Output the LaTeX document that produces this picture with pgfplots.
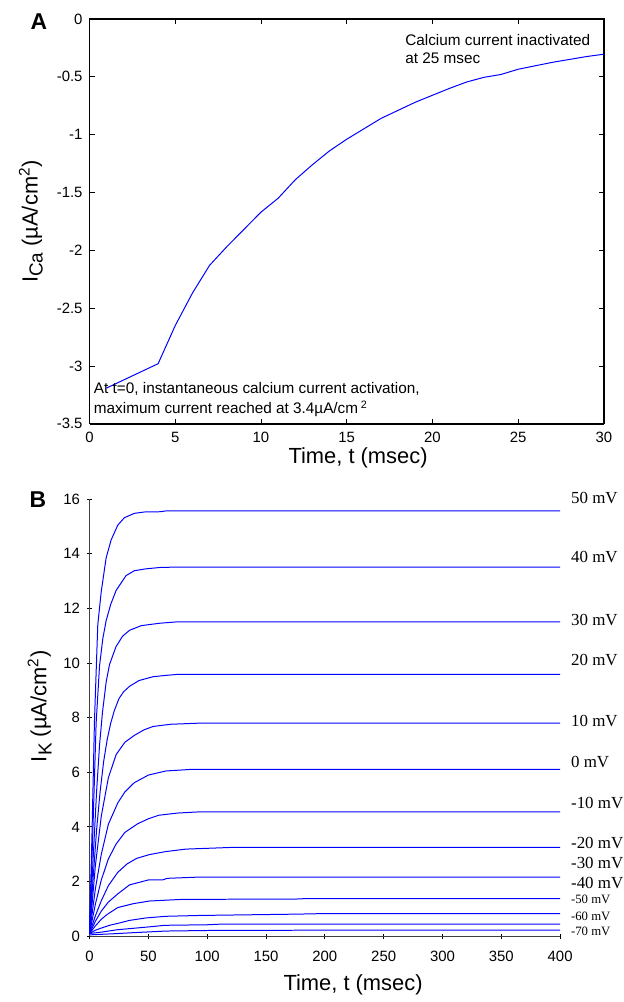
\documentclass[border=0pt]{standalone}
\usepackage{fontspec}
\setmainfont{Liberation Sans}
\newfontfamily\mvfont{Liberation Serif}
\usepackage{pgfplots}
\usepackage{pgfplotstable}
\pgfplotsset{compat=1.18}

% panel A: calcium current
\pgfplotstableread{
t   ica
1   -3.19
2   -3.12
3   -3.05
4   -2.98
5   -2.65
6   -2.37
7   -2.13
8   -1.97
9   -1.82
10  -1.67
11  -1.55
12  -1.39
13  -1.26
14  -1.14
15  -1.04
16  -0.95
17  -0.86
18  -0.79
19  -0.72
20  -0.66
21  -0.60
22  -0.545
23  -0.505
24  -0.48
25  -0.435
26  -0.405
27  -0.375
28  -0.35
29  -0.325
30  -0.305
}\icatable

\pgfplotsset{
  cur/.style={blue, line width=0.5pt, mark=none, solid},
  common/.style={
    scale only axis,
    tick align=inside,
    major tick length=2.5pt,
    tick style={black, line width=0.5pt},
    ticklabel style={font=\fontsize{7.5}{9}\selectfont},
    /pgf/number format/assume math mode=true,
    label style={font=\fontsize{11}{13}\selectfont},
    clip=false,
  }
}

\begin{document}
\begin{tikzpicture}
\path (0,0) rectangle (313.5pt,-501pt);

\begin{axis}[common,
  at={(45pt,-213pt)}, anchor=south west,
  width=258.5pt, height=203.5pt,
  xmin=0, xmax=30, ymin=-3.5, ymax=0,
  xtick={0,5,...,30}, ytick={-3.5,-3,-2.5,-2,-1.5,-1,-0.5,0},
  axis line style={line width=0.6pt},
  xticklabel style={yshift=-0.8pt},
  xlabel={Time, t (msec)},
  xlabel style={at={(axis description cs:0.522,-0.083)}, anchor=center},
  ylabel={I\raisebox{-0.45ex}{\fontsize{9.5}{10}\selectfont Ca} (µA/cm\textsuperscript{2})},
  ylabel style={at={(axis description cs:-0.114,0.5)}, anchor=center},
]
\addplot[cur] table[x=t, y=ica] {\icatable};
\draw[line width=1pt] (axis cs:0,-3.5) -- (axis cs:30,-3.5);
\end{axis}

\begin{axis}[common,
  at={(45pt,-470.5pt)}, anchor=south west,
  width=236.5pt, height=219.65pt,
  xmin=0, xmax=400, ymin=0, ymax=16,
  xtick={0,50,...,400}, ytick={0,2,...,16},
  axis x line=bottom, axis y line=left,
  axis line style={-, black!75, line width=0.6pt},
  xticklabel style={yshift=-2.5pt},
  xlabel={Time, t (msec)},
  xlabel style={at={(axis description cs:0.56,-0.112)}, anchor=center},
  ylabel={I\raisebox{-0.45ex}{\fontsize{9.5}{10}\selectfont K} (µA/cm\textsuperscript{2})},
  ylabel style={at={(axis description cs:-0.106,0.526)}, anchor=center},
]
\addplot[cur] coordinates {(0,0.1) (2,3.6) (4.2,7.9) (7,11.4) (9.9,12.6) (14.1,13.85) (18.3,14.5) (24,15.05) (29.6,15.32) (38,15.48) (46.5,15.53) (60,15.54) (65,15.57) (400,15.57)};
\addplot[cur] coordinates {(0,0.1) (2.5,3.4) (5.6,7.8) (8.5,9.9) (11.3,10.9) (14.1,11.55) (18,12.15) (22.6,12.66) (31,13.2) (38,13.38) (48,13.45) (60,13.5) (70,13.51) (400,13.51)};
\addplot[cur] coordinates {(0,0.1) (3,2.8) (6,5.3) (8.5,7.0) (11,8.2) (14.1,9.3) (17,9.95) (22.5,10.6) (28,10.98) (34,11.2) (44,11.37) (60,11.46) (75,11.51) (400,11.51)};
\addplot[cur] coordinates {(0,0.1) (3,2.1) (6,3.9) (9,5.3) (12,6.4) (15,7.2) (18,7.8) (21,8.25) (25,8.7) (29,8.95) (34,9.15) (42,9.36) (54,9.5) (65,9.55) (76,9.59) (400,9.59)};
\addplot[cur] coordinates {(0,0.1) (5,2.6) (10,4.4) (16,5.8) (22.6,6.65) (30,7.1) (38,7.35) (46,7.55) (54,7.68) (69,7.76) (93,7.8) (400,7.8)};
\addplot[cur] coordinates {(0,0.1) (5,1.75) (10,3.0) (16,4.1) (24,4.88) (30,5.28) (38,5.62) (50,5.9) (65,6.05) (87,6.11) (400,6.11)};
\addplot[cur] coordinates {(0,0.1) (5,1.18) (10,2.06) (16,2.83) (22.5,3.37) (30,3.8) (41,4.12) (50,4.3) (59,4.43) (75,4.51) (92,4.55) (400,4.55)};
\addplot[cur] coordinates {(0,0.1) (5,0.75) (10,1.3) (16,1.85) (24,2.34) (32,2.65) (40,2.85) (51,2.99) (65,3.1) (82,3.19) (120,3.25) (400,3.25)};
\addplot[cur] coordinates {(0,0.1) (5,0.55) (10,0.92) (16,1.25) (24,1.55) (34,1.88) (50,2.06) (62,2.06) (66,2.12) (90,2.16) (400,2.16)};
\addplot[cur] coordinates {(0,0.1) (5,0.38) (10,0.62) (15,0.8) (24,1.05) (37,1.19) (51,1.29) (79,1.35) (175,1.36) (185,1.38) (400,1.38)};
\addplot[cur] coordinates {(0,0.1) (5,0.22) (10,0.3) (17,0.4) (24,0.47) (34,0.58) (48,0.67) (65,0.73) (93,0.76) (110,0.77) (178,0.81) (200,0.83) (400,0.83)};
\addplot[cur] coordinates {(0,0.1) (10,0.15) (24,0.24) (50,0.34) (64,0.4) (100,0.42) (110,0.44) (400,0.44)};
\addplot[cur] coordinates {(0,0.05) (20,0.09) (37,0.13) (65,0.19) (100,0.21) (180,0.22) (400,0.22)};

\begin{scope}[every node/.style={anchor=west, inner sep=0pt, font=\mvfont\fontsize{8.5}{10}\selectfont}]
\node at (axis cs:409,16.06) {50 mV};
\node at (axis cs:409,13.87) {40 mV};
\node at (axis cs:409,11.59) {30 mV};
\node at (axis cs:409,10.13) {20 mV};
\node at (axis cs:409,7.89) {10 mV};
\node at (axis cs:409,6.38) {0 mV};
\node at (axis cs:409,4.89) {-10 mV};
\node at (axis cs:409,3.42) {-20 mV};
\node at (axis cs:409,2.69) {-30 mV};
\node at (axis cs:409,1.96) {-40 mV};
\end{scope}
\begin{scope}[every node/.style={anchor=west, inner sep=0pt, font=\mvfont\fontsize{6.4}{8}\selectfont}]
\node at (axis cs:409,1.34) {-50 mV};
\node at (axis cs:409,0.73) {-60 mV};
\node at (axis cs:409,0.18) {-70 mV};
\end{scope}
\end{axis}

\node[font=\fontsize{11.5}{12}\selectfont\bfseries] at (19.5pt,-11pt) {A};
\node[font=\fontsize{11.5}{12}\selectfont\bfseries] at (19pt,-251pt) {B};

\begin{scope}[every node/.style={anchor=base west, inner sep=0pt, font=\fontsize{7.7}{9}\selectfont}]
\node at (203.5pt,-23pt) {Calcium current inactivated};
\node at (203.5pt,-32pt) {at 25 msec};
\node at (47pt,-197.5pt) {At t=0, instantaneous calcium current activation,};
\node at (47pt,-208pt) {maximum current reached at 3.4µA/cm\,\textsuperscript{2}};
\end{scope}
\end{tikzpicture}
\end{document}
